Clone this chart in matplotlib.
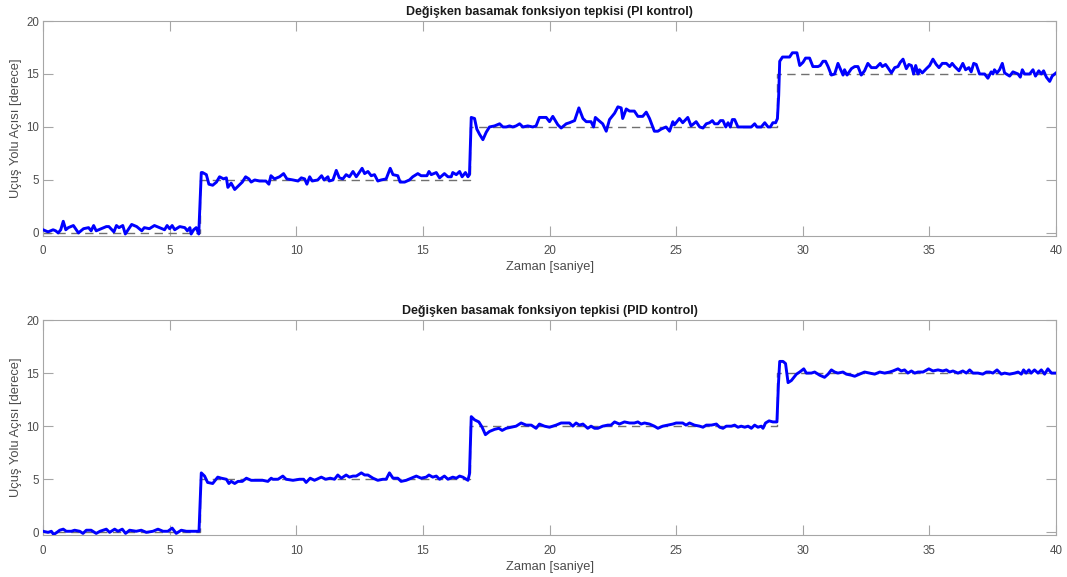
import matplotlib
matplotlib.use("Agg")
import matplotlib.pyplot as plt

plt.rcParams["font.family"] = ["Liberation Sans", "DejaVu Sans"]

# --- PI kontrol yaniti (ust grafik) ---
t_pi = [
    0.0, 0.2, 0.4, 0.5, 0.6, 0.7, 0.8, 0.9, 1.0, 1.2, 1.4, 1.6, 1.8, 1.9, 2.0, 2.1,
    2.3, 2.5, 2.6, 2.8, 2.9, 3.0, 3.15, 3.25, 3.5, 3.7, 3.9, 4.0, 4.2, 4.4, 4.6, 4.8,
    4.9, 5.0, 5.1, 5.2, 5.4, 5.6, 5.7, 5.8, 5.85, 5.95, 6.05, 6.15, 6.25, 6.3,
    6.45, 6.55, 6.7, 6.85, 6.97, 7.13, 7.24, 7.3, 7.43, 7.57, 7.7, 7.87, 8.0, 8.13,
    8.22, 8.36, 8.55, 8.8, 8.92, 9.0, 9.14, 9.34, 9.5, 9.63, 9.87, 10.07, 10.2, 10.33,
    10.42, 10.53, 10.63, 10.85, 11.0, 11.1, 11.25, 11.3, 11.45, 11.58, 11.7, 11.84,
    11.97, 12.1, 12.24, 12.37, 12.43, 12.6, 12.7, 12.83, 12.96, 13.09, 13.22, 13.35,
    13.55, 13.71, 13.82, 14.01, 14.1, 14.28, 14.47, 14.6, 14.8, 14.93, 15.16, 15.24,
    15.33, 15.53, 15.66, 15.85, 15.99, 16.12, 16.18, 16.32, 16.45, 16.55, 16.68, 16.78,
    16.84, 16.91, 17.04, 17.13, 17.24, 17.37, 17.5, 17.63, 17.83, 18.03, 18.16, 18.29,
    18.42, 18.55, 18.68, 18.82, 18.95, 19.14, 19.34, 19.47, 19.6, 19.87, 20.0, 20.13,
    20.33, 20.46, 20.66, 20.79, 20.99, 21.16, 21.32, 21.45, 21.64, 21.74, 21.81, 21.95,
    22.1, 22.24, 22.37, 22.47, 22.57, 22.7, 22.83, 22.89, 23.03, 23.16, 23.35, 23.49,
    23.68, 23.82, 23.95, 24.14, 24.28, 24.41, 24.6, 24.74, 24.87, 24.93, 25.13, 25.26,
    25.46, 25.59, 25.79, 25.93, 26.06, 26.19, 26.32, 26.43, 26.52, 26.65, 26.75, 26.85,
    26.96, 27.05, 27.14, 27.22, 27.31, 27.44, 27.64, 27.97, 28.1, 28.19, 28.36, 28.5,
    28.63, 28.72, 28.82, 28.93, 29.0, 29.05, 29.09, 29.2, 29.35, 29.48, 29.59, 29.77,
    29.88, 30.01, 30.11, 30.27, 30.4, 30.6, 30.69, 30.8, 30.9, 31.0, 31.13, 31.26,
    31.39, 31.48, 31.59, 31.65, 31.75, 31.92, 32.05, 32.18, 32.31, 32.44, 32.57, 32.71,
    32.9, 33.06, 33.14, 33.27, 33.36, 33.5, 33.63, 33.76, 33.85, 33.96, 34.09, 34.19,
    34.29, 34.38, 34.46, 34.55, 34.61, 34.72, 34.88, 35.01, 35.14, 35.27, 35.38, 35.51,
    35.67, 35.8, 35.9, 36.0, 36.17, 36.32, 36.43, 36.56, 36.65, 36.75, 36.85, 36.98,
    37.18, 37.31, 37.44, 37.51, 37.57, 37.67, 37.77, 37.88, 37.97, 38.17, 38.3, 38.5,
    38.59, 38.67, 38.76, 38.96, 39.09, 39.19, 39.32, 39.42, 39.51, 39.62, 39.75, 39.85,
    40.0,
]
y_pi = [
    0.3, 0.1, 0.3, 0.2, 0.0, 0.3, 1.1, 0.3, 0.5, 0.7, 0.0, 0.4, 0.5, 0.2, 0.7, 0.2,
    0.4, 0.6, 0.6, 0.1, 0.7, 0.5, 0.7, -0.1, 0.8, 0.6, 0.2, 0.5, 0.4, 0.7, 0.5, 0.3,
    0.7, 0.4, 0.7, 0.3, 0.6, 0.5, 0.2, 0.5, -0.1, 0.3, 0.5, -0.1, 5.7, 5.7,
    5.5, 4.6, 4.5, 4.8, 5.3, 5.1, 5.2, 4.3, 4.7, 4.1, 4.4, 4.8, 5.3, 5.1,
    4.8, 5.0, 4.9, 4.9, 4.6, 5.4, 5.1, 5.3, 5.6, 5.1, 5.0, 4.9, 5.2, 5.1,
    4.6, 5.3, 4.9, 5.0, 5.4, 5.0, 5.3, 4.9, 5.0, 5.9, 5.2, 5.1,
    5.5, 5.3, 5.8, 5.3, 5.5, 6.1, 5.6, 5.8, 5.4, 5.5, 4.9, 5.0,
    5.1, 6.1, 5.5, 5.4, 4.8, 4.8, 5.0, 5.3, 5.6, 5.4, 5.4, 5.8,
    5.5, 5.7, 5.2, 5.6, 5.3, 5.3, 5.7, 5.5, 5.8, 5.3, 5.7, 5.3,
    5.5, 10.9, 10.8, 9.8, 9.3, 8.8, 9.5, 10.0, 10.1, 10.3, 10.0, 10.0,
    10.1, 10.0, 10.1, 10.3, 10.0, 10.1, 10.0, 10.1, 10.9, 10.9, 10.5, 11.0,
    10.2, 9.9, 10.3, 10.4, 10.6, 11.8, 10.8, 10.5, 10.5, 10.0, 10.9, 10.6,
    10.3, 9.6, 10.7, 11.0, 11.3, 11.9, 11.8, 10.8, 11.7, 11.5, 11.5, 11.0,
    11.0, 11.4, 10.8, 9.6, 9.6, 9.8, 10.0, 9.6, 10.5, 10.2, 10.8, 10.4,
    10.9, 10.1, 10.5, 10.0, 9.9, 10.3, 10.4, 10.6, 10.3, 10.3, 10.6, 10.6,
    10.0, 10.4, 10.0, 10.7, 10.7, 10.0, 10.0, 10.0, 10.3, 10.0, 10.0, 10.4,
    10.0, 10.0, 10.4, 10.4, 10.8, 13.0, 16.2, 16.6, 16.6, 16.6, 17.0, 17.0,
    15.8, 16.1, 16.5, 16.5, 15.7, 15.7, 15.8, 16.2, 16.2, 15.7, 14.9, 15.0,
    16.0, 15.5, 14.9, 15.4, 14.9, 15.5, 15.7, 15.7, 14.9, 15.3, 16.0, 15.6,
    15.6, 16.0, 15.7, 15.9, 15.6, 15.1, 15.6, 15.7, 16.1, 16.4, 15.5, 15.9,
    15.8, 15.0, 15.8, 15.0, 15.4, 15.1, 15.5, 15.8, 16.4, 15.9, 15.6, 16.0,
    16.0, 15.7, 16.0, 15.7, 15.3, 16.0, 15.4, 15.6, 15.2, 16.0, 15.9, 15.0,
    15.0, 14.6, 15.2, 15.0, 15.4, 15.1, 15.4, 16.0, 15.1, 14.8, 15.2, 15.0,
    14.7, 15.4, 15.0, 15.0, 15.4, 14.8, 15.3, 15.0, 15.3, 14.7, 14.3, 14.8,
    15.1,
]

# --- PID kontrol yaniti (alt grafik) ---
t_pid = [
    0.0, 0.2, 0.33, 0.42, 0.55, 0.66, 0.8, 0.92, 1.12, 1.25, 1.45, 1.58, 1.71, 1.9,
    2.1, 2.25, 2.5, 2.63, 2.83, 2.96, 3.13, 3.26, 3.42, 3.68, 3.88, 4.08, 4.34, 4.54,
    4.74, 4.93, 5.1, 5.26, 5.46, 5.66, 5.92, 6.16, 6.25, 6.38, 6.5, 6.7, 6.9, 7.04,
    7.24, 7.34, 7.43, 7.57, 7.7, 7.87, 8.03, 8.22, 8.42, 8.68, 8.88, 9.01, 9.08, 9.28,
    9.47, 9.6, 9.87, 10.13, 10.29, 10.39, 10.55, 10.72, 10.99, 11.16, 11.34, 11.51,
    11.64, 11.78, 11.97, 12.1, 12.24, 12.37, 12.57, 12.7, 12.83, 13.03, 13.22, 13.42,
    13.55, 13.68, 13.82, 14.01, 14.14, 14.34, 14.54, 14.74, 14.93, 15.13, 15.24, 15.39,
    15.53, 15.66, 15.85, 15.99, 16.18, 16.32, 16.45, 16.58, 16.78, 16.84, 16.91, 17.04,
    17.21, 17.34, 17.47, 17.63, 17.83, 18.0, 18.13, 18.29, 18.49, 18.68, 18.88, 19.08,
    19.28, 19.47, 19.6, 19.8, 20.0, 20.26, 20.46, 20.66, 20.79, 20.92, 21.05, 21.18,
    21.32, 21.51, 21.64, 21.78, 21.91, 22.1, 22.3, 22.43, 22.57, 22.76, 22.96, 23.16,
    23.35, 23.49, 23.62, 23.75, 23.95, 24.14, 24.28, 24.47, 24.67, 24.87, 25.0, 25.13,
    25.26, 25.39, 25.53, 25.72, 25.93, 26.06, 26.19, 26.39, 26.59, 26.72, 26.85, 26.98,
    27.18, 27.31, 27.44, 27.57, 27.71, 27.84, 27.97, 28.1, 28.23, 28.36, 28.43, 28.53,
    28.67, 28.82, 28.98, 29.04, 29.09, 29.22, 29.32, 29.42, 29.55, 29.75, 29.88, 30.04,
    30.14, 30.34, 30.47, 30.67, 30.86, 31.0, 31.13, 31.26, 31.39, 31.59, 31.72, 31.92,
    32.05, 32.25, 32.44, 32.64, 32.84, 33.04, 33.23, 33.43, 33.56, 33.76, 33.89, 34.02,
    34.15, 34.29, 34.42, 34.55, 34.75, 34.98, 35.14, 35.34, 35.53, 35.67, 35.8, 35.93,
    36.13, 36.32, 36.46, 36.59, 36.72, 36.92, 37.11, 37.25, 37.38, 37.51, 37.67, 37.84,
    37.97, 38.17, 38.37, 38.5, 38.63, 38.72, 38.82, 38.93, 39.02, 39.15, 39.29, 39.42,
    39.55, 39.68, 39.82, 40.0,
]
y_pid = [
    0.1, 0.0, 0.1, -0.2, 0.0, 0.2, 0.3, 0.1, 0.1, 0.2, 0.1, -0.1, 0.2, 0.2,
    -0.1, 0.1, 0.3, 0.0, 0.3, 0.1, 0.3, -0.1, 0.2, 0.1, 0.2, 0.0, 0.1, 0.3,
    0.1, 0.1, 0.4, -0.1, 0.2, 0.1, 0.1, 0.1, 5.6, 5.3, 4.7, 4.6, 5.2, 5.1,
    5.0, 4.6, 4.8, 4.6, 4.8, 4.8, 5.1, 4.9, 4.9, 4.9, 4.8, 5.1, 5.0, 5.0,
    5.3, 5.0, 4.9, 5.0, 5.0, 4.7, 5.1, 4.9, 5.2, 5.0, 5.1, 5.0,
    5.4, 5.1, 5.4, 5.2, 5.3, 5.3, 5.6, 5.4, 5.4, 5.1, 4.9, 5.0,
    5.0, 5.6, 5.1, 5.1, 4.8, 4.9, 5.1, 5.3, 5.1, 5.2, 5.4, 5.2,
    5.3, 5.0, 5.3, 5.0, 5.2, 5.1, 5.3, 5.2, 4.9, 5.5, 10.9, 10.6,
    10.4, 9.9, 9.2, 9.5, 9.7, 9.8, 9.6, 9.8, 9.9, 10.0, 10.3, 10.1,
    10.1, 9.8, 10.2, 10.0, 9.9, 10.1, 10.3, 10.3, 10.3, 10.0, 10.3, 10.1,
    10.2, 9.8, 10.0, 9.8, 9.8, 10.0, 10.1, 10.1, 10.4, 10.2, 10.4, 10.3,
    10.3, 10.4, 10.2, 10.3, 10.2, 10.0, 9.8, 10.0, 10.1, 10.2, 10.3, 10.3,
    10.3, 10.1, 10.3, 10.1, 10.0, 9.9, 10.1, 10.1, 10.2, 9.9, 9.8, 10.0,
    10.0, 10.1, 9.9, 10.0, 9.9, 10.0, 9.8, 10.1, 9.9, 10.0, 9.8, 10.3,
    10.5, 10.4, 10.4, 14.0, 16.1, 16.1, 15.9, 14.1, 14.3, 14.9, 15.1, 15.4,
    15.0, 15.0, 15.1, 14.8, 14.6, 14.9, 15.3, 15.1, 15.0, 15.1, 14.9, 14.8,
    14.7, 14.9, 15.1, 15.0, 14.9, 15.1, 15.0, 15.1, 15.2, 15.4, 15.2, 15.3,
    15.0, 15.2, 15.0, 15.1, 15.1, 15.4, 15.2, 15.3, 15.2, 15.3, 15.1, 15.2,
    15.0, 15.2, 15.0, 15.3, 15.0, 15.0, 14.9, 15.1, 15.1, 15.0, 15.3, 14.9,
    15.0, 14.9, 15.0, 15.1, 14.9, 15.3, 15.0, 15.3, 15.0, 15.3, 15.0, 15.3,
    14.9, 15.4, 15.0, 15.0,
]

# referans basamak girisi
t_ref = [0.0, 6.2, 16.85, 29.0, 40.0]
y_ref = [0, 5, 10, 15, 15]

titles = [
    "Değişken basamak fonksiyon tepkisi (PI kontrol)",
    "Değişken basamak fonksiyon tepkisi (PID kontrol)",
]
x_ticks = [0, 5, 10, 15, 20, 25, 30, 35, 40]
y_ticks = [0, 5, 10, 15, 20]

AX_COL = "#a6a6a6"
TXT_COL = "#4d4d4d"


def style_axes(ax, title):
    ax.set_xlim(0, 40)
    ax.set_ylim(-0.25, 20)
    ax.set_xticks(x_ticks)
    ax.set_yticks(y_ticks)
    ax.tick_params(direction="in", length=7, width=0.8, color=AX_COL,
                   labelcolor=TXT_COL, labelsize=8.3, top=True, right=True)
    ax.tick_params(axis="x", pad=7)
    ax.tick_params(axis="y", pad=3)
    for sp in ax.spines.values():
        sp.set_color(AX_COL)
        sp.set_linewidth(0.8)
    ax.set_title(title, fontsize=8.9, fontweight="bold", color="#1a1a1a", pad=4)
    ax.set_xlabel("Zaman [saniye]", fontsize=9.3, color=TXT_COL, labelpad=3)
    ax.set_ylabel("Uçuş Yolu Açısı [derece]", fontsize=9.3, color=TXT_COL)
    ax.yaxis.set_label_coords(-0.0205, 0.5)


fig = plt.figure(figsize=(10.67, 5.77), dpi=100)
ax1 = fig.add_axes([0.0403, 0.5917, 0.9494, 0.3719])
ax2 = fig.add_axes([0.0403, 0.0728, 0.9494, 0.3726])

for ax, t, y, title in [(ax1, t_pi, y_pi, titles[0]), (ax2, t_pid, y_pid, titles[1])]:
    ax.plot(t_ref, y_ref, drawstyle="steps-post", color="#707070", lw=1.0,
            linestyle=(0, (6, 4)), zorder=2)
    ax.plot(t, y, color="#0000ff", lw=2.1, zorder=3)
    style_axes(ax, title)

fig.savefig("out.png", dpi=100)
